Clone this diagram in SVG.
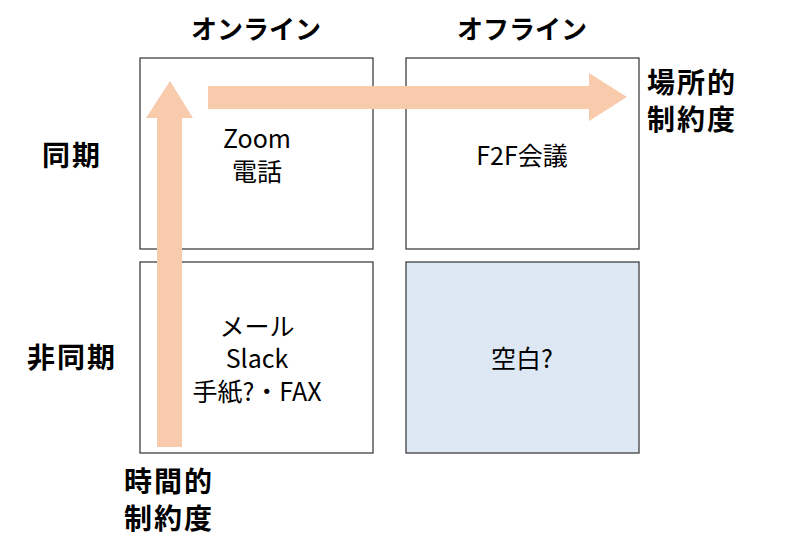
<svg xmlns="http://www.w3.org/2000/svg" width="800" height="555" viewBox="0 0 800 555">
<style>
.box{fill:#fff;stroke:#404040;stroke-width:1.3}
.hd{font-family:"Noto Sans CJK JP","Noto Sans",sans-serif;font-weight:bold;font-size:26px;fill:#000}
.hd2{font-family:"Noto Sans CJK JP","Noto Sans",sans-serif;font-weight:bold;font-size:28px;letter-spacing:2px;fill:#000}
.tx{font-family:"Noto Sans CJK JP","Noto Sans",sans-serif;font-size:25px;fill:#000;text-anchor:middle}
.arr{fill:#F8CBAD}
</style>
<rect width="800" height="555" fill="#fff"/>
<g id="cell-online-sync"><rect class="box" x="140" y="58" width="233" height="191"/><text class="tx" x="257" y="148">Zoom</text><text class="tx" x="257" y="181">電話</text></g>
<g id="cell-offline-sync"><rect class="box" x="406" y="58" width="233" height="191"/><text class="tx" x="522" y="165">F2F会議</text></g>
<g id="cell-online-async"><rect class="box" x="140" y="262" width="233" height="191"/><text class="tx" x="257" y="336">メール</text><text class="tx" x="257" y="368">Slack</text><text class="tx" x="257" y="401">手紙?・FAX</text></g>
<g id="cell-offline-async"><rect class="box" x="406" y="262" width="233" height="191" style="fill:#DEE8F4"/><text class="tx" x="522" y="368">空白?</text></g>
<g id="connectors">
<path class="arr" d="M157,447 L157,118 L146,118 L170,81 L193,118 L182,118 L182,447 Z"/>
<path class="arr" d="M208,86 L589,86 L589,73 L627,97 L589,121 L589,109 L208,109 Z"/>
</g>
<g id="labels">
<text class="hd" x="256" y="39" text-anchor="middle">オンライン</text>
<text class="hd" x="522" y="39" text-anchor="middle">オフライン</text>
<text class="hd2" x="42" y="166">同期</text>
<text class="hd2" x="27" y="368">非同期</text>
<text class="hd2" x="647" y="93">場所的</text>
<text class="hd2" x="647" y="130">制約度</text>
<text class="hd2" x="124" y="492">時間的</text>
<text class="hd2" x="124" y="529">制約度</text>
</g>
</svg>
